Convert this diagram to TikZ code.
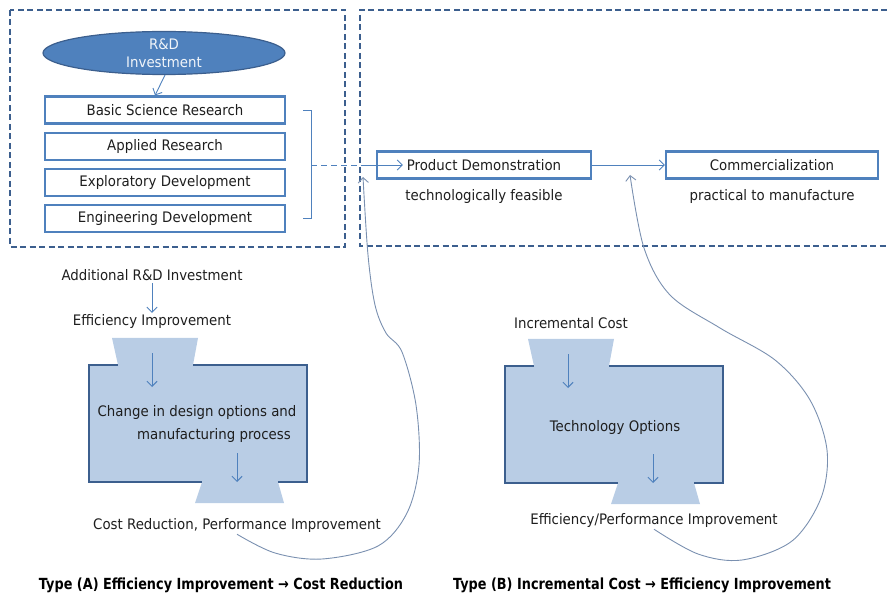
\documentclass[tikz,border=0pt]{standalone}
\usepackage{fontspec}
\setmainfont{DejaVu Sans}[FakeStretch=0.92]
\newfontfamily\captionfont{DejaVu Sans}[FakeStretch=0.84]
\usepackage{tikz}
\usetikzlibrary{arrows.meta,positioning,shapes.geometric}
\definecolor{clBlue}{HTML}{4F81BD}
\definecolor{clDark}{HTML}{3C5F8E}
\definecolor{clFill}{HTML}{B9CDE5}
\definecolor{clCurve}{HTML}{7A90B0}
\definecolor{clText}{HTML}{1E1E1E}
\tikzset{
  stagebox/.style={rectangle, draw=clBlue, line width=2.2pt, fill=white, text=clText,
                   minimum width=240pt, minimum height=27pt, inner sep=2pt},
  resultbox/.style={rectangle, draw=clBlue, line width=2.2pt, text=clText,
                    minimum height=27pt, inner sep=2pt},
  invest/.style={ellipse, draw=clDark, line width=1.2pt, fill=clBlue, text=white!92!clBlue,
                 minimum width=242pt, minimum height=43pt, inner sep=0pt, align=center},
  dashframe/.style={draw=clDark, line width=1.3pt, dash pattern=on 6pt off 3.5pt},
  flow/.style={-{Straight Barb[length=1.8mm,width=3.6mm]}, draw=clBlue, line width=0.9pt},
  feedback/.style={-{Straight Barb[length=1.8mm,width=3.6mm]}, draw=clCurve, line width=0.9pt},
  notetext/.style={inner sep=2pt, text=clText},
  typecap/.style={inner sep=2pt, font=\captionfont\bfseries\fontsize{15.3}{17}\selectfont, text=black},
  funnel/.pic={
    \fill[clFill] (0,0) -- (29,0) -- (23,-27) -- (109,-27) -- (104,0) -- (218,0) -- (218,117)
      -- (189,117) -- (195,138) -- (106,138) -- (113,117) -- (0,117) -- cycle;
    \draw[draw=clDark, line width=1.5pt] (29,0) -- (0,0) -- (0,117) -- (113,117);
    \draw[draw=clDark, line width=1.5pt] (189,117) -- (218,117) -- (218,0) -- (104,0);
    \draw[flow] (63,-12) -- (63,22);
    \draw[flow] (148,88) -- (148,117);
  },
}
\begin{document}
\begin{tikzpicture}[x=1pt, y=-1pt, node distance=7pt,
    every node/.style={font=\fontsize{14.5}{17.5}\selectfont}]
  \useasboundingbox (0,0) rectangle (887,596);
  % frames
  \draw[dashframe] (10,10) rectangle (345,247);
  \draw[dashframe] (887,10) -- (360,10) -- (360,246) -- (887,246);

  % research stages
  \node[invest] (rd) at (164,53) {R\&D\\Investment};
  \node[stagebox] (bs) at (165,110) {Basic Science Research};
  \node[stagebox, below=of bs] (ar) {Applied Research};
  \node[stagebox, below=of ar] (xd) {Exploratory Development};
  \node[stagebox, below=of xd] (ed) {Engineering Development};
  \draw[flow] ([xshift=1pt]rd.south) -- ([xshift=-10pt]bs.north);
  \draw[draw=clBlue, line width=0.9pt] ([xshift=17pt]bs.east) -- ++(8,0) |- ([xshift=17pt]ed.east);

  % demonstration and market
  \node[resultbox, minimum width=214pt] (pd) at (484,165) {Product Demonstration};
  \node[resultbox, minimum width=212pt] (cm) at (772,165) {Commercialization};
  \coordinate (brk) at ([xshift=25pt]bs.east |- pd.west);
  \coordinate (jn) at ([xshift=-15pt]pd.west);
  \draw[draw=clBlue, line width=0.9pt, dash pattern=on 6pt off 4pt] (brk) -- (jn);
  \draw[flow] (jn) -- ([xshift=27pt]pd.west);
  \draw[flow] (pd) -- (cm);
  \node[notetext, below=8pt of pd] (tf) {technologically feasible};
  \node[notetext, below=8pt of cm] (pm) {practical to manufacture};

  % type A
  \pic at (89,365) {funnel};
  \node[notetext] (add) at (152,275) {Additional R\&D Investment};
  \node[notetext] (effA) at (152,322) {Efficiency Improvement};
  \draw[flow] (add) -- (effA);
  \node[notetext] (chg) at (197,412) {Change in design options and};
  \node[notetext] (mfg) at (214,435) {manufacturing process};
  \node[notetext] (crA) at (237,525) {Cost Reduction, Performance Improvement};

  % type B
  \pic at (505,366) {funnel};
  \node[notetext] (inc) at (571,323) {Incremental Cost};
  \node[notetext] (tech) at (615,427) {Technology Options};
  \node[notetext] (effB) at (654,520) {Efficiency/Performance Improvement};

  % feedback loops
  \coordinate (tipA) at (363,177);
  \coordinate (tipB) at (630,175);
  \draw[feedback] plot[smooth, tension=0.55] coordinates {(crA.south) (275,553) (322,559)
    (378,546) (407,513) (419,465) (416,405) (402,352) (386,333) (375,305) (368,255) (tipA)};
  \draw[feedback] plot[smooth, tension=0.55] coordinates {(effB.south) (698,554) (742,560)
    (792,541) (821,498) (827,450) (810,400) (775,360) (720,328) (670,295) (644,248) (tipB)};

  % captions
  \node[typecap] (capA) at (221,585) {Type (A) Efficiency Improvement → Cost Reduction};
  \node[typecap] (capB) at (642,585) {Type (B) Incremental Cost → Efficiency Improvement};
\end{tikzpicture}
\end{document}
